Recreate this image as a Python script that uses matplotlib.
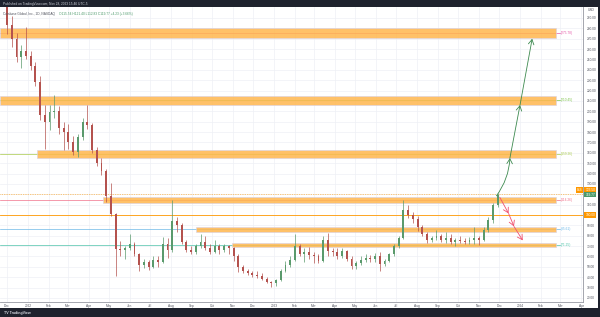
import numpy as np
import matplotlib
matplotlib.use("Agg")
import matplotlib.pyplot as plt
import matplotlib.dates as mdates
from matplotlib.patches import Rectangle

## Weekly candles (Monday of each week)
first_week = np.datetime64("2021-11-29")
opens = [318, 283, 270, 252, 258, 253, 244, 228, 196, 190,
         199, 200, 184, 180, 170, 161, 175, 190, 187, 163,
         150, 142, 118, 101, 67, 66, 68, 72, 62, 52,
         55, 50, 57, 55, 72, 66, 94, 90, 74, 66,
         64, 70, 74, 68, 64, 70, 66, 70, 68, 60,
         50, 46, 44, 42, 41, 38, 35, 34, 37, 46,
         52, 57, 70, 62, 64, 61, 60, 56, 76, 65,
         64, 60, 65, 58, 51, 54, 57, 59, 58, 60,
         53, 56, 62, 70, 78, 105, 100, 96, 88, 82,
         76, 78, 80, 76, 78, 74, 76, 75, 74, 76,
         78, 76, 86, 95, 110]
highs = [328, 292, 276, 264, 281, 258, 248, 234, 206, 206,
         216, 205, 190, 188, 176, 178, 194, 206, 189, 166,
         155, 144, 131, 102, 75, 70, 82, 74, 63, 58,
         57, 60, 60, 79, 78, 114, 98, 92, 76, 70,
         72, 82, 80, 72, 76, 72, 72, 71, 69, 62,
         52, 48, 46, 46, 44, 40, 36, 38, 48, 56,
         60, 82, 72, 68, 69, 64, 62, 80, 83, 68,
         68, 68, 66, 60, 56, 60, 62, 61, 63, 64,
         58, 63, 72, 80, 114, 110, 103, 99, 90, 84,
         80, 86, 82, 84, 82, 78, 80, 78, 79, 88,
         80, 88, 98, 112, 121.4]
lows = [275, 262, 248, 242, 250, 240, 224, 192, 164, 182,
        194, 178, 163, 164, 158, 156, 172, 183, 160, 147,
        139, 113, 99, 41, 60, 58, 66, 60, 46, 49,
        47, 49, 50, 54, 59, 64, 84, 72, 64, 62,
        62, 68, 66, 62, 63, 62, 64, 62, 56, 45,
        44, 42, 40, 39, 37, 34, 31, 32, 36, 45,
        50, 56, 60, 55, 58, 54, 54, 55, 60, 60,
        58, 59, 56, 48, 48, 52, 55, 55, 55, 46,
        51, 55, 60, 68, 77, 97, 92, 85, 80, 73,
        74, 76, 74, 73, 72, 70, 73, 72, 72, 72,
        71, 75, 84, 92, 108]
closes = [283, 270, 252, 258, 253, 244, 228, 196, 190, 199,
          200, 184, 180, 170, 161, 175, 190, 187, 163, 150,
          142, 118, 101, 67, 66, 68, 72, 62, 52, 55,
          50, 57, 55, 72, 66, 94, 90, 74, 66, 64,
          70, 74, 68, 64, 70, 66, 70, 68, 60, 50,
          46, 44, 42, 41, 38, 35, 34, 37, 46, 52,
          57, 70, 62, 64, 61, 60, 56, 76, 65, 64,
          60, 65, 58, 51, 54, 57, 59, 58, 60, 53,
          56, 62, 70, 78, 105, 100, 96, 88, 82, 76,
          78, 80, 76, 78, 74, 76, 75, 74, 76, 78,
          76, 86, 95, 110, 119.77]

## supply / demand zones
zone_lo = [270.7, 206.1, 155.0, 112.0, 83.6, 69.2]
zone_hi = [280.4, 214.8, 162.7, 117.0, 88.5, 73.3]
zone_start = [None, None, "2022-01-14", "2022-04-22", "2022-09-07", "2022-10-30"]
zone_end = "2024-02-23"
zone_labels = ["(275.78)", "(210.45)", "(159.26)", "(114.26)", "(85.61)", "(71.25)"]
zone_colors = ["#e55aa8", "#7cc24a", "#a8c94a", "#f0708a", "#6cb8e8", "#4cc2a8"]
label_date = "2024-03-02"

## projected paths
green_dates = ["2023-11-27", "2023-12-17", "2024-01-01", "2024-01-19"]
green_prices = [118.5, 155.0, 206.1, 270.0]
red_dates = ["2023-12-02", "2023-12-15", "2023-12-23", "2024-01-05"]
red_prices = [117.0, 101.5, 89.0, 75.5]

month_names = ["", "Jan", "Feb", "Mar", "Apr", "May", "Jun",
               "Jul", "Aug", "Sep", "Oct", "Nov", "Dec"]

UP = "#5a9a6c"
DOWN = "#b4524e"
FONT = "Liberation Sans"
plt.rcParams["font.family"] = [FONT, "DejaVu Sans"]

fig = plt.figure(figsize=(6, 3.17), dpi=100, facecolor="#1e222d")
fig.patches.append(Rectangle((0, 9 / 317), 598 / 600, 301 / 317,
                             transform=fig.transFigure, fc="white", ec="none", zorder=-5))
ax = fig.add_axes([0, 15 / 317, 583 / 600, 295 / 317])
ax.set_facecolor("white")

d = lambda s: mdates.date2num(np.datetime64(s))
x_left = d("2021-11-20T12")
x_right = d("2024-04-03T10")
ax.set_xlim(x_left, x_right)
ax.set_ylim(16.1, 300.6)

## candles
o = np.array(opens, float)
h = np.array(highs, float)
l = np.array(lows, float)
c = np.array(closes, float)
centers = mdates.date2num(first_week + np.arange(len(c)) * 7 + 2)
col = np.where(c >= o, UP, DOWN)
ax.vlines(centers, l, h, colors=col, lw=0.5, zorder=3)
ax.bar(centers, np.maximum(np.abs(c - o), 0.8), bottom=np.minimum(o, c),
       width=2.8, color=col, lw=0, zorder=3)

## zones and their levels
for lo, hi, st, lab, zc in zip(zone_lo, zone_hi, zone_start, zone_labels, zone_colors):
    s = x_left if st is None else d(st)
    ax.add_patch(Rectangle((s, lo), d(zone_end) - s, hi - lo, fc="#ffb74d", alpha=0.85,
                           ec="#d9d2e3", lw=0.5, zorder=2))
    mid = (lo + hi) / 2
    ax.plot([x_left, d(label_date) - 2], [mid, mid], color=zc, lw=0.5, zorder=1.5)
    ax.text(d(label_date), mid, lab, color=zc, fontsize=2.3, va="center", zorder=5)

## horizontal lines
ax.axhline(100, color="#ff9800", lw=0.6, zorder=1.6)
ax.axhline(120.5, color="#ff9800", lw=0.5, ls=(0, (1, 1.5)), zorder=1.6)

## arrows
def path_arrows(dates, prices, color, rad0):
    for i in range(len(dates) - 1):
        ax.annotate("", xy=(d(dates[i + 1]), prices[i + 1]), xytext=(d(dates[i]), prices[i]),
                    arrowprops=dict(arrowstyle="->,head_length=0.35,head_width=0.2", color=color,
                                    lw=0.6, shrinkA=0, shrinkB=0,
                                    connectionstyle=f"arc3,rad={rad0 if i == 0 else 0}"),
                    zorder=6)

path_arrows(green_dates, green_prices, "#3d8a4f", 0.15)
path_arrows(red_dates, red_prices, "#f0506e", 0)

## grid and axes
ax.xaxis.set_major_locator(mdates.MonthLocator())
ax.xaxis.set_major_formatter(plt.FuncFormatter(
    lambda v, p: str(mdates.num2date(v).year) if mdates.num2date(v).month == 1
    else month_names[mdates.num2date(v).month]))
ax.set_yticks(np.arange(20, 300, 10))
ax.yaxis.set_major_formatter(plt.FuncFormatter(lambda v, p: f"{v:.2f}"))
ax.yaxis.tick_right()
ax.grid(True, color="#eef0f5", lw=0.5, zorder=0)
ax.set_axisbelow(True)
ax.tick_params(axis="x", length=0, labelsize=2.3, colors="#50535e", pad=1.2)
ax.tick_params(axis="y", length=0, labelsize=2.3, colors="#50535e", pad=2.5)
for sp in ["top", "left"]:
    ax.spines[sp].set_visible(False)
for sp in ["bottom", "right"]:
    ax.spines[sp].set_color("#9598a1")
    ax.spines[sp].set_linewidth(0.6)

## price tags on the axis
def tag(price, text, fc, tc="white"):
    ax.annotate(text, xy=(1.0, price), xycoords=("axes fraction", "data"),
                xytext=(1.6, 0), textcoords="offset points", fontsize=2.3, color=tc,
                va="center", ha="left", annotation_clip=False,
                bbox=dict(boxstyle="square,pad=0.25", fc=fc, ec="none"))

tag(124.0, "123.50", "#ff9800")
tag(119.77, "119.77", "#4c9a6a")
tag(100, "100.00", "#ff9800")
ax.annotate("B&S", xy=(1.0, 124.0), xycoords=("axes fraction", "data"),
            xytext=(-0.5, 0), textcoords="offset points", fontsize=2.0, color="white",
            va="center", ha="right", annotation_clip=False,
            bbox=dict(boxstyle="square,pad=0.25", fc="#ff9800", ec="none"))

## header / footer texts
fig.text(591 / 600, 1 - 10 / 317, "USD", fontsize=2.3, color="#50535e", ha="center", va="center")
fig.text(3 / 600, 1 - 3.5 / 317, "Published on TradingView.com, Nov 28, 2023 15:46 UTC-5",
         fontsize=2.3, color="#d1d4dc", va="center")
title = ax.text(0.006, 0.975, "Coinbase Global, Inc., 1D, NASDAQ", transform=ax.transAxes,
                fontsize=2.3, color="#50535e", va="center")
ax.annotate("O115.54 H121.40 L112.83 C119.77 +4.23 (+3.66%)", xy=(1, 0.5), xycoords=title,
            xytext=(2.5, 0), textcoords="offset points",
            fontsize=2.3, color="#4c9a6a", va="center")
fig.text(4 / 600, 1 - 313 / 317, "TV TradingView", fontsize=2.6, color="#d1d4dc",
         va="center", weight="bold")

fig.savefig("out.png", dpi=100, facecolor=fig.get_facecolor())
